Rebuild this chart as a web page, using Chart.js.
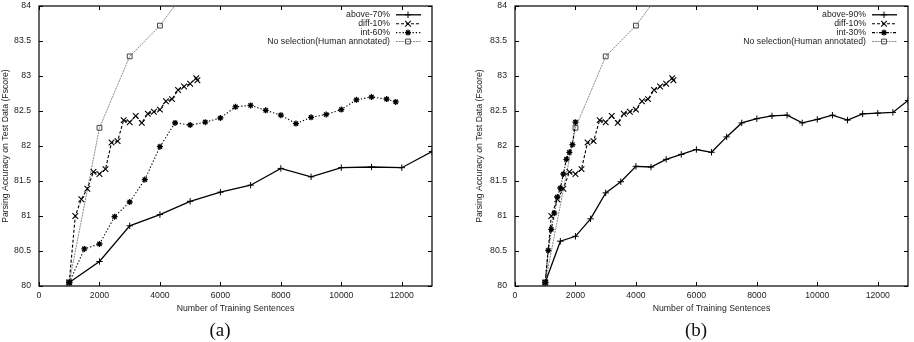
<!DOCTYPE html>
<html><head><meta charset="utf-8">
<script src="https://cdn.jsdelivr.net/npm/chart.js@4.4.1/dist/chart.umd.min.js"></script>
<style>
html,body{margin:0;padding:0;background:#fff;width:914px;height:342px;overflow:hidden;}
.panel{position:absolute;top:0;width:457px;height:342px;}
#pa{left:0}
#pb{left:457px}
.cap{position:absolute;top:330px;font-family:"Liberation Serif","Times New Roman",serif;font-size:19px;color:#111;transform:translate(-50%,-50%);white-space:nowrap;}
</style></head><body>
<div class="panel" id="pa"><canvas id="ca" width="457" height="342"></canvas></div>
<div class="panel" id="pb"><canvas id="cb" width="457" height="342"></canvas></div>
<div class="cap" style="left:220px">(a)</div>
<div class="cap" style="left:696px">(b)</div>
<script>
// ---- tick labels ----
const xTicks = [0, 2000, 4000, 6000, 8000, 10000, 12000];
const yTicks = [80, 80.5, 81, 81.5, 82, 82.5, 83, 83.5, 84];

// ---- series labels ----
const labelsA = ['above-70%', 'diff-10%', 'int-60%', 'No selection(Human annotated)'];
const labelsB = ['above-90%', 'diff-10%', 'int-30%', 'No selection(Human annotated)'];

// ---- panel (a) ----
const aboveA_x = [1000, 2000, 3000, 4000, 5000, 6000, 7000, 8000, 9000, 10000, 11000, 12000, 13000];
const aboveA_y = [80.05, 80.35, 80.86, 81.02, 81.21, 81.34, 81.44, 81.68, 81.56, 81.69, 81.70, 81.69, 81.92];
const int60_x = [1000, 1500, 2000, 2500, 3000, 3500, 4000, 4500, 5000, 5500, 6000, 6500, 7000, 7500, 8000, 8500, 9000, 9500, 10000, 10500, 11000, 11500, 11800];
const int60_y = [80.05, 80.53, 80.60, 80.99, 81.20, 81.52, 81.99, 82.33, 82.30, 82.34, 82.40, 82.56, 82.58, 82.51, 82.44, 82.32, 82.41, 82.45, 82.52, 82.66, 82.70, 82.67, 82.63];

// ---- shared by both panels ----
const diff_x = [1000, 1200, 1400, 1600, 1800, 2000, 2200, 2400, 2600, 2800, 3000, 3200, 3400, 3600, 3800, 4000, 4200, 4400, 4600, 4800, 5000, 5200, 5240];
const diff_y = [80.05, 81.00, 81.24, 81.39, 81.63, 81.60, 81.67, 82.05, 82.07, 82.37, 82.34, 82.43, 82.33, 82.46, 82.49, 82.52, 82.64, 82.67, 82.80, 82.85, 82.89, 82.97, 82.94];
const human_x = [1000, 2000, 3000, 4000, 5000];
const human_y = [80.05, 82.26, 83.28, 83.72, 84.30];

// ---- panel (b) ----
const aboveB_x = [1000, 1500, 2000, 2500, 3000, 3500, 4000, 4500, 5000, 5500, 6000, 6500, 7000, 7500, 8000, 8500, 9000, 9500, 10000, 10500, 11000, 11500, 12000, 12500, 13000];
const aboveB_y = [80.05, 80.64, 80.71, 80.96, 81.33, 81.49, 81.71, 81.70, 81.81, 81.88, 81.95, 81.91, 82.13, 82.33, 82.39, 82.43, 82.44, 82.33, 82.38, 82.44, 82.37, 82.46, 82.47, 82.48, 82.65];
const int30_x = [1000, 1100, 1200, 1300, 1400, 1500, 1600, 1700, 1800, 1900, 2000];
const int30_y = [80.05, 80.51, 80.81, 81.04, 81.27, 81.40, 81.60, 81.81, 81.91, 82.02, 82.34];

const FONT = '"Liberation Sans", Arial, Helvetica, sans-serif';
const TXT = '#222';

function pts(xs, ys) { return xs.map((x, i) => ({ x: x, y: ys[i] })); }

const styles = {
  above: { borderColor: '#000', borderWidth: 1.3, borderDash: [], pointStyle: 'cross', pointRadius: 3.2, pointBorderColor: '#000', pointBackgroundColor: '#000', pointBorderWidth: 1 },
  diff:  { borderColor: '#000', borderWidth: 1.1, borderDash: [3, 2], pointStyle: 'crossRot', pointRadius: 4, pointBorderColor: '#000', pointBackgroundColor: '#000', pointBorderWidth: 1.1 },
  int60: { borderColor: '#000', borderWidth: 1.1, borderDash: [1.3, 2], pointStyle: 'star', pointRadius: 3, pointBorderColor: '#000', pointBackgroundColor: '#000', pointBorderWidth: 1.3 },
  int30: { borderColor: '#000', borderWidth: 1.1, borderDash: [3, 1.5, 1, 1.5], pointStyle: 'star', pointRadius: 3, pointBorderColor: '#000', pointBackgroundColor: '#000', pointBorderWidth: 1.3 },
  human: { borderColor: '#8a8a8a', borderWidth: 1, borderDash: [2, 0.8], pointStyle: 'rect', pointRadius: 3.4, pointBorderColor: '#444', pointBackgroundColor: 'rgba(0,0,0,0)', pointBorderWidth: 1 }
};

function ds(label, data, st) {
  return Object.assign({ label: label, data: data, fill: false, tension: 0, pointHoverRadius: 0 }, st);
}

// inward ticks on all four sides + frame
const framePlugin = {
  id: 'gpFrame',
  beforeDatasetsDraw(chart) {
    const { ctx, chartArea: a, scales } = chart;
    ctx.save();
    ctx.strokeStyle = '#000';
    ctx.lineWidth = 1;
    ctx.beginPath();
    const L = 4;
    scales.x.ticks.forEach(t => {
      const px = Math.round(scales.x.getPixelForValue(t.value)) + 0.5;
      ctx.moveTo(px, a.bottom); ctx.lineTo(px, a.bottom - L);
      ctx.moveTo(px, a.top); ctx.lineTo(px, a.top + L);
    });
    scales.y.ticks.forEach(t => {
      const py = Math.round(scales.y.getPixelForValue(t.value)) + 0.5;
      ctx.moveTo(a.left, py); ctx.lineTo(a.left + L, py);
      ctx.moveTo(a.right, py); ctx.lineTo(a.right - L, py);
    });
    ctx.stroke();
    ctx.lineWidth = 1.2;
    ctx.strokeRect(a.left, a.top, a.right - a.left, a.bottom - a.top);
    ctx.restore();
  }
};

// gnuplot-style key: right-aligned text, line sample with marker on its right
const keyPlugin = {
  id: 'gpKey',
  afterDatasetsDraw(chart) {
    const { ctx, chartArea: a } = chart;
    ctx.save();
    ctx.font = '8.7px ' + FONT;
    ctx.textAlign = 'right';
    ctx.textBaseline = 'middle';
    chart.data.datasets.forEach((d, i) => {
      const y = a.top + 8.8 + i * 8.9;
      ctx.fillStyle = TXT;
      ctx.fillText(d.label, a.right - 42, y);
      ctx.strokeStyle = d.borderColor;
      ctx.lineWidth = d.borderWidth;
      ctx.setLineDash(d.borderDash || []);
      ctx.beginPath();
      ctx.moveTo(a.right - 36, y); ctx.lineTo(a.right - 11, y);
      ctx.stroke();
      ctx.setLineDash([]);
      ctx.strokeStyle = d.pointBorderColor;
      ctx.fillStyle = d.pointBackgroundColor;
      ctx.lineWidth = d.pointBorderWidth;
      Chart.helpers.drawPoint(ctx, { pointStyle: d.pointStyle, radius: d.pointRadius, borderWidth: d.pointBorderWidth, rotation: 0 }, a.right - 24, y);
    });
    ctx.restore();
  }
};

function makeChart(id, datasets, padLeft, padRight, yWidth) {
  return new Chart(document.getElementById(id), {
    type: 'line',
    data: { datasets: datasets },
    plugins: [framePlugin, keyPlugin],
    options: {
      responsive: false,
      animation: false,
      devicePixelRatio: 1,
      layout: { padding: { left: padLeft, right: padRight, top: 6, bottom: 28 } },
      plugins: { legend: { display: false }, tooltip: { enabled: false }, title: { display: false } },
      scales: {
        x: {
          type: 'linear', min: 0, max: 13000,
          afterBuildTicks: s => { s.ticks = xTicks.map(v => ({ value: v })); },
          afterFit: s => { s.height = 28; s.paddingLeft = 0; s.paddingRight = 0; },
          grid: { display: false, drawTicks: false },
          border: { display: false },
          ticks: { padding: 4, color: TXT, font: { family: FONT, size: 8.7 }, maxRotation: 0, autoSkip: false, callback: v => String(v) },
          title: { display: true, text: 'Number of Training Sentences', color: TXT, padding: 0, font: { family: FONT, size: 8.7 } }
        },
        y: {
          type: 'linear', min: 80, max: 84,
          afterBuildTicks: s => { s.ticks = yTicks.map(v => ({ value: v })); },
          afterFit: s => { s.width = yWidth; s.paddingTop = 0; s.paddingBottom = 0; },
          grid: { display: false, drawTicks: false },
          border: { display: false },
          ticks: { padding: 8, color: TXT, font: { family: FONT, size: 8.7 }, autoSkip: false, callback: v => String(v) },
          title: { display: true, text: 'Parsing Accuracy on Test Data (Fscore)', color: TXT, padding: 0, font: { family: FONT, size: 8.7 } }
        }
      }
    }
  });
}

makeChart('ca', [
  ds(labelsA[0], pts(aboveA_x, aboveA_y), styles.above),
  ds(labelsA[1], pts(diff_x, diff_y), styles.diff),
  ds(labelsA[2], pts(int60_x, int60_y), styles.int60),
  ds(labelsA[3], pts(human_x, human_y), styles.human)
], 0, 25, 39);

makeChart('cb', [
  ds(labelsB[0], pts(aboveB_x, aboveB_y), styles.above),
  ds(labelsB[1], pts(diff_x, diff_y), styles.diff),
  ds(labelsB[2], pts(int30_x, int30_y), styles.int30),
  ds(labelsB[3], pts(human_x, human_y), styles.human)
], 17, 6, 41);
</script>
</body></html>
